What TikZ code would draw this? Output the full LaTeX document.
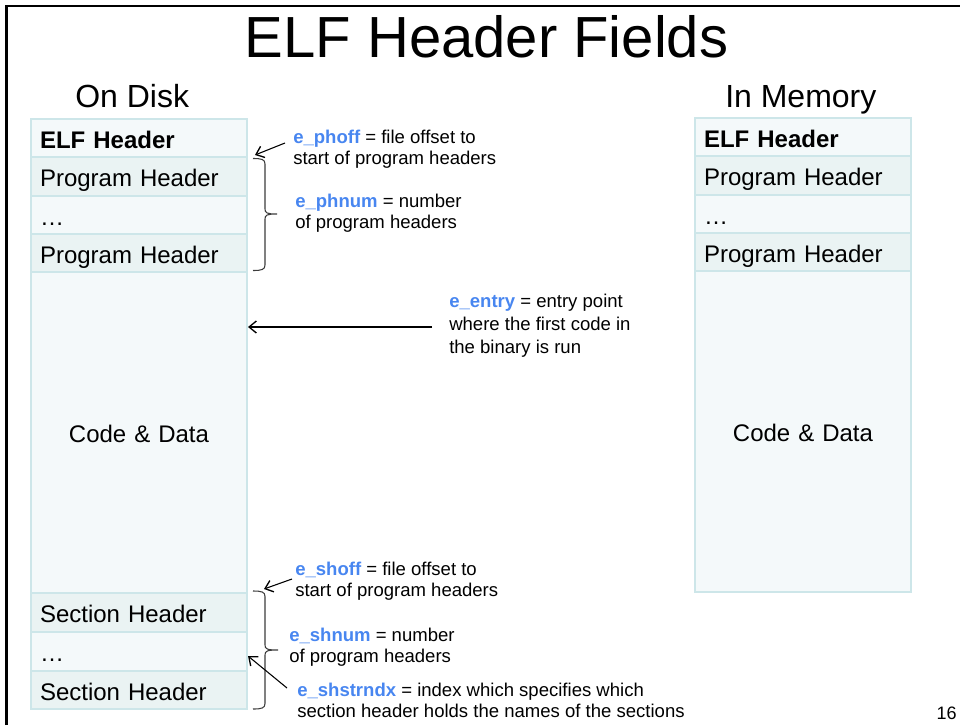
\documentclass[tikz,border=0pt]{standalone}
\usepackage{fontspec}
\setmainfont{Liberation Sans}
\usetikzlibrary{arrows.meta,calc}
\definecolor{rowlight}{RGB}{244,249,250}
\definecolor{rowdark}{RGB}{234,243,243}
\definecolor{rowline}{RGB}{205,230,233}
\definecolor{fieldblue}{RGB}{72,134,240}
\newcommand\fld[1]{\textcolor{fieldblue}{\textbf{#1}}}
\begin{document}
\begin{tikzpicture}[x=0.75pt,y=-0.75pt,
  rowbox/.style={draw=rowline, line width=1.1pt, outer sep=0pt, minimum width=162pt,
    text width=148.5pt, inner xsep=6.75pt, inner ysep=0pt, align=left, anchor=north west,
    font=\fontsize{18}{21}\selectfont, text height=15.5pt, text depth=0.5pt,
    minimum height=28.5pt, fill=rowlight},
  darkrow/.style={rowbox, fill=rowdark, minimum height=29.25pt},
  coderow/.style={rowbox, minimum height=240.75pt, align=center},
  note/.style={align=left, anchor=base west, inner sep=0pt, font=\fontsize{13.9}{15.75}\selectfont},
  heading/.style={anchor=base west, inner sep=0pt, font=\fontsize{24}{28}\selectfont},
  pointer/.style={-{Straight Barb[length=5.5pt,width=9pt,line width=1pt]}, line width=0.8pt, black},
  bracket/.style={line width=0.8pt, draw={rgb,255:red,60;green,60;blue,60}}]
\useasboundingbox (0,0) rectangle (960,725);
% frame
\draw[line width=1.8pt] (6.5,725) -- (6.5,6) -- (960,6);
% title
\node[anchor=base, inner sep=0pt, font=\fontsize{43.5}{50}\selectfont] (title) at (486.5,57) {ELF Header Fields};
\node[heading] (disk) at (75,107) {On Disk};
\node[heading] (mem) at (725,107) {In Memory};
% on disk column
\node[rowbox] (d1) at (31,119) {\textbf{ELF Header}};
\node[darkrow] (d2) at (d1.south west) {Program Header};
\node[rowbox] (d3) at (d2.south west) {\dots};
\node[darkrow, minimum height=28.5pt] (d4) at (d3.south west) {Program Header};
\node[coderow] (d5) at (d4.south west) {Code \& Data};
\node[darkrow] (d6) at (d5.south west) {Section Header};
\node[rowbox, minimum height=29.25pt] (d7) at (d6.south west) {\dots};
\node[darkrow, minimum height=28.5pt] (d8) at (d7.south west) {Section Header};
% in memory column
\node[rowbox] (m1) at (695,118) {\textbf{ELF Header}};
\node[darkrow] (m2) at (m1.south west) {Program Header};
\node[rowbox] (m3) at (m2.south west) {\dots};
\node[darkrow, minimum height=28.5pt] (m4) at (m3.south west) {Program Header};
\node[coderow] (m5) at (m4.south west) {Code \& Data};
% annotations (anchored at the baseline of their last line)
\node[note] (phoff) at (293,164) {\fld{e\_phoff} = file offset to\\start of program headers};
\node[note] (phnum) at (295,228) {\fld{e\_phnum} = number\\of program headers};
\node[note, font=\fontsize{13.9}{17.25}\selectfont] (entry) at (449,353) {\fld{e\_entry} = entry point\\where the first code in\\the binary is run};
\node[note] (shoff) at (295,596) {\fld{e\_shoff} = file offset to\\start of program headers};
\node[note] (shnum) at (289,662) {\fld{e\_shnum} = number\\of program headers};
\node[note] (shstr) at (297,717) {\fld{e\_shstrndx} = index which specifies which\\section header holds the names of the sections};
\node[anchor=base east, inner sep=0pt, font=\fontsize{13.5}{16}\selectfont] (pnum) at (957,719) {16};
% brackets
\draw[bracket] (253,158.5) .. controls (262,158.5) and (265,159.5) .. (265,164)
  -- (265,209) .. controls (265,213) and (267,214) .. (277,214)
  .. controls (267,214) and (265,215) .. (265,219)
  -- (265,265) .. controls (265,269.5) and (262,270.5) .. (253,270.5);
\draw[bracket] (253,591) .. controls (262,591) and (265,592) .. (265,596.5)
  -- (265,645) .. controls (265,649) and (267,650) .. (278,650)
  .. controls (267,650) and (265,651) .. (265,655)
  -- (265,703.5) .. controls (265,708) and (262,709) .. (253,709);
% pointers
\coordinate (t1) at (285,143); \coordinate (h1) at (255,155);
\coordinate (t2) at (432,327); \coordinate (h2) at (248,327);
\coordinate (t3) at (292,579); \coordinate (h3) at (264,589);
\coordinate (t4) at (287,688); \coordinate (h4) at (248,656);
\draw[pointer] (t1) -- (h1);
\draw[pointer] (t2) -- (h2);
\draw[pointer] (t3) -- (h3);
\draw[pointer] (t4) -- (h4);
\end{tikzpicture}
\end{document}
